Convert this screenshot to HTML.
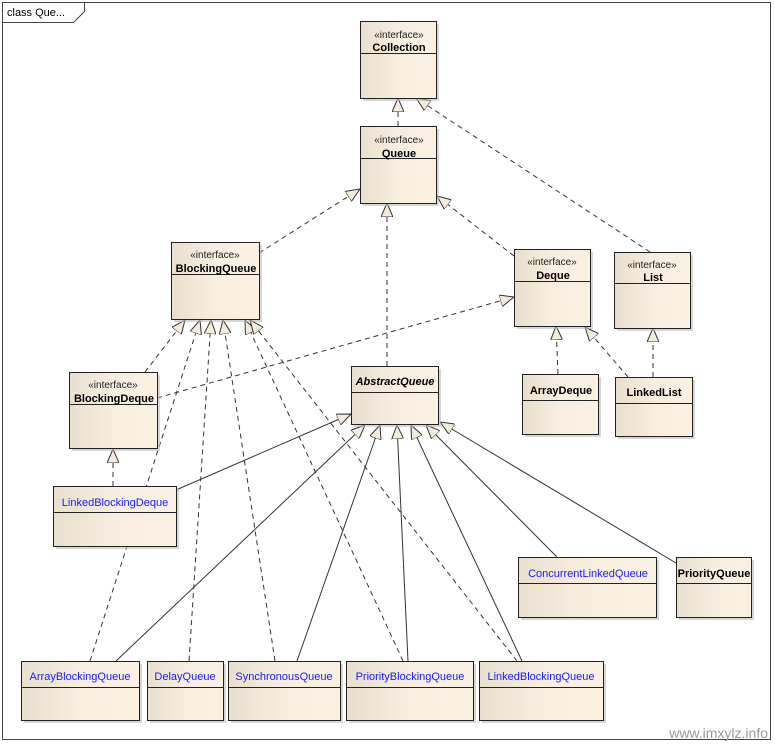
<!DOCTYPE html>
<html><head><meta charset="utf-8">
<style>
html,body{margin:0;padding:0;background:#fff;}
svg{display:block;font-family:"Liberation Sans",Arial,sans-serif;}
.st{font-size:10px;fill:#222;}
.nm{font-size:11px;font-weight:bold;fill:#000;}
.bl{font-size:11px;fill:#1a1aff;}
.ln{stroke:#333;stroke-width:1;fill:none;}
.d{stroke-dasharray:5,4;}
</style></head><body>
<svg width="775" height="744" viewBox="0 0 775 744" xmlns="http://www.w3.org/2000/svg">
<defs>
<linearGradient id="g" x1="0" x2="1" y1="0" y2="0">
<stop offset="0" stop-color="#e9dfcd"/><stop offset="0.5" stop-color="#f7eee0"/><stop offset="1" stop-color="#faf1e3"/>
</linearGradient>
<marker id="t" viewBox="0 0 14 12" refX="14" refY="6" markerWidth="14" markerHeight="12" markerUnits="userSpaceOnUse" orient="auto">
<path d="M0,0 L14,6 L0,12 Z" fill="#f3ebdc" stroke="#333" stroke-width="1"/>
</marker>
</defs>
<rect x="2.5" y="2.5" width="768" height="737" fill="#fff" stroke="#444"/>
<path d="M2.5,22.5 H73.5 L84.5,11.5 V2.5" fill="none" stroke="#444"/>
<text x="7" y="16" style="font-size:11px;fill:#000">class Que...</text>
<text x="768" y="738" text-anchor="end" style="font-size:14px;fill:#999">www.imxylz.info</text>

<!-- connectors -->
<g class="ln">
<line class="ln d" x1="398" y1="126" x2="398" y2="98" marker-end="url(#t)"/>
<line class="ln d" x1="650" y1="252" x2="416" y2="98" marker-end="url(#t)"/>
<line class="ln d" x1="259" y1="253" x2="360" y2="189" marker-end="url(#t)"/>
<line class="ln d" x1="387" y1="366" x2="387" y2="203" marker-end="url(#t)"/>
<line class="ln d" x1="514" y1="256" x2="437" y2="196" marker-end="url(#t)"/>
<line class="ln d" x1="145" y1="372" x2="185" y2="320" marker-end="url(#t)"/>
<line class="ln d" x1="157" y1="398" x2="514" y2="297" marker-end="url(#t)"/>
<line class="ln d" x1="558" y1="374" x2="556" y2="326" marker-end="url(#t)"/>
<line class="ln d" x1="628" y1="377" x2="585" y2="327" marker-end="url(#t)"/>
<line class="ln d" x1="653" y1="377" x2="653" y2="328" marker-end="url(#t)"/>
<line class="ln d" x1="113" y1="486" x2="113" y2="449" marker-end="url(#t)"/>
<line class="ln" x1="176" y1="490" x2="351" y2="414" marker-end="url(#t)"/>
<line class="ln d" x1="90" y1="661" x2="200" y2="320" marker-end="url(#t)"/>
<line class="ln" x1="116" y1="661" x2="365" y2="425" marker-end="url(#t)"/>
<line class="ln d" x1="189" y1="661" x2="211" y2="320" marker-end="url(#t)"/>
<line class="ln d" x1="275" y1="661" x2="223" y2="320" marker-end="url(#t)"/>
<line class="ln" x1="297" y1="661" x2="380" y2="425" marker-end="url(#t)"/>
<line class="ln d" x1="403" y1="661" x2="245" y2="320" marker-end="url(#t)"/>
<line class="ln" x1="408" y1="661" x2="397" y2="425" marker-end="url(#t)"/>
<line class="ln d" x1="517" y1="661" x2="250" y2="320" marker-end="url(#t)"/>
<line class="ln" x1="522" y1="661" x2="411" y2="425" marker-end="url(#t)"/>
<line class="ln" x1="557" y1="557" x2="426" y2="425" marker-end="url(#t)"/>
<line class="ln" x1="676" y1="563" x2="440" y2="422" marker-end="url(#t)"/>
</g>

<!-- boxes -->
<g id="boxes" stroke="#222" fill="url(#g)">
</g>
<g fill="#bbb" opacity="0.6">
<rect x="363" y="24" width="76" height="77"/><rect x="363" y="129" width="76" height="77"/>
<rect x="174" y="245" width="88" height="77"/><rect x="517" y="252" width="76" height="77"/>
<rect x="617" y="255" width="76" height="76"/><rect x="72" y="375" width="88" height="76"/>
<rect x="354" y="369" width="87" height="58"/><rect x="525" y="377" width="76" height="60"/>
<rect x="618" y="380" width="77" height="59"/><rect x="56" y="489" width="123" height="60"/>
<rect x="521" y="560" width="138" height="60"/><rect x="679" y="560" width="75" height="60"/>
<rect x="24" y="664" width="118" height="59"/><rect x="150" y="664" width="76" height="59"/>
<rect x="231" y="664" width="112" height="59"/><rect x="349" y="664" width="127" height="59"/>
<rect x="482" y="664" width="124" height="59"/>
</g>
<g stroke="#222" fill="url(#g)">
<rect x="360.5" y="21.5" width="76" height="77"/><line x1="360" y1="53.5" x2="437" y2="53.5"/>
<rect x="360.5" y="126.5" width="76" height="77"/><line x1="360" y1="158.5" x2="437" y2="158.5"/>
<rect x="171.5" y="242.5" width="88" height="77"/><line x1="171" y1="274.5" x2="260" y2="274.5"/>
<rect x="514.5" y="249.5" width="76" height="77"/><line x1="514" y1="281.5" x2="591" y2="281.5"/>
<rect x="614.5" y="252.5" width="76" height="76"/><line x1="614" y1="283.5" x2="691" y2="283.5"/>
<rect x="69.5" y="372.5" width="88" height="76"/><line x1="69" y1="404.5" x2="158" y2="404.5"/>
<rect x="351.5" y="366.5" width="87" height="58"/><line x1="351" y1="392.5" x2="439" y2="392.5"/>
<rect x="522.5" y="374.5" width="76" height="60"/><line x1="522" y1="400.5" x2="599" y2="400.5"/>
<rect x="615.5" y="377.5" width="77" height="59"/><line x1="615" y1="403.5" x2="693" y2="403.5"/>
<rect x="53.5" y="486.5" width="123" height="60"/><line x1="53" y1="512.5" x2="177" y2="512.5"/>
<rect x="518.5" y="557.5" width="138" height="60"/><line x1="518" y1="583.5" x2="657" y2="583.5"/>
<rect x="676.5" y="557.5" width="75" height="60"/><line x1="676" y1="583.5" x2="752" y2="583.5"/>
<rect x="21.5" y="661.5" width="118" height="59"/><line x1="21" y1="687.5" x2="140" y2="687.5"/>
<rect x="147.5" y="661.5" width="76" height="59"/><line x1="147" y1="687.5" x2="224" y2="687.5"/>
<rect x="228.5" y="661.5" width="112" height="59"/><line x1="228" y1="687.5" x2="341" y2="687.5"/>
<rect x="346.5" y="661.5" width="127" height="59"/><line x1="346" y1="687.5" x2="474" y2="687.5"/>
<rect x="479.5" y="661.5" width="124" height="59"/><line x1="479" y1="687.5" x2="604" y2="687.5"/>
</g>

<!-- labels -->
<g text-anchor="middle">
<text class="st" x="399" y="38">«interface»</text><text class="nm" x="399" y="51">Collection</text>
<text class="st" x="399" y="143">«interface»</text><text class="nm" x="399" y="157">Queue</text>
<text class="st" x="215" y="258">«interface»</text><text class="nm" x="216" y="272">BlockingQueue</text>
<text class="st" x="552" y="265">«interface»</text><text class="nm" x="553" y="279">Deque</text>
<text class="st" x="652" y="268">«interface»</text><text class="nm" x="653" y="281">List</text>
<text class="st" x="113" y="388">«interface»</text><text class="nm" x="114" y="402">BlockingDeque</text>
<text class="nm" x="395" y="385" style="font-style:italic">AbstractQueue</text>
<text class="nm" x="561" y="394">ArrayDeque</text>
<text class="nm" x="654" y="396">LinkedList</text>
<text class="bl" x="115" y="506">LinkedBlockingDeque</text>
<text class="bl" x="588" y="577">ConcurrentLinkedQueue</text>
<text class="nm" x="714" y="577">PriorityQueue</text>
<text class="bl" x="80" y="680">ArrayBlockingQueue</text>
<text class="bl" x="185" y="680">DelayQueue</text>
<text class="bl" x="284" y="680">SynchronousQueue</text>
<text class="bl" x="410" y="680">PriorityBlockingQueue</text>
<text class="bl" x="541" y="680">LinkedBlockingQueue</text>
</g>
</svg>
</body></html>
